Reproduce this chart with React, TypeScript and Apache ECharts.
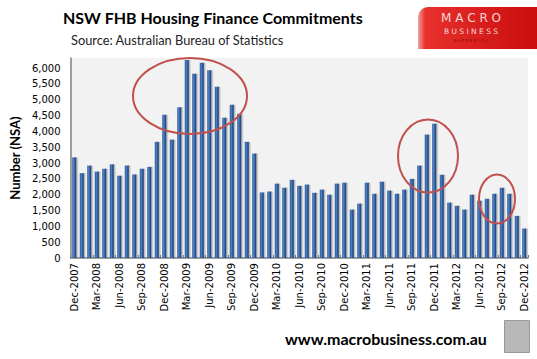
import React, { useEffect, useRef } from "react";
import * as echarts from "echarts";

const categories: string[] = [
  "Dec-2007", "Jan-2008", "Feb-2008", "Mar-2008", "Apr-2008", "May-2008", "Jun-2008", "Jul-2008", "Aug-2008", "Sep-2008", "Oct-2008", "Nov-2008",
  "Dec-2008", "Jan-2009", "Feb-2009", "Mar-2009", "Apr-2009", "May-2009", "Jun-2009", "Jul-2009", "Aug-2009", "Sep-2009", "Oct-2009", "Nov-2009",
  "Dec-2009", "Jan-2010", "Feb-2010", "Mar-2010", "Apr-2010", "May-2010", "Jun-2010", "Jul-2010", "Aug-2010", "Sep-2010", "Oct-2010", "Nov-2010",
  "Dec-2010", "Jan-2011", "Feb-2011", "Mar-2011", "Apr-2011", "May-2011", "Jun-2011", "Jul-2011", "Aug-2011", "Sep-2011", "Oct-2011", "Nov-2011",
  "Dec-2011", "Jan-2012", "Feb-2012", "Mar-2012", "Apr-2012", "May-2012", "Jun-2012", "Jul-2012", "Aug-2012", "Sep-2012", "Oct-2012", "Nov-2012",
  "Dec-2012",
];

const fhbCommitments: number[] = [
  3180, 2680, 2920, 2730, 2820, 2960, 2600, 2920, 2640, 2820, 2880, 3670,
  4530, 3740, 4760, 6260, 5820, 6170, 5930, 5410, 4430, 4840, 4560, 3670,
  3300, 2070, 2100, 2350, 2220, 2470, 2280, 2320, 2060, 2160, 2000, 2350,
  2380, 1530, 1720, 2380, 2030, 2410, 2130, 2030, 2160, 2500, 2920, 3900,
  4240, 2630, 1750, 1650, 1530, 2000, 1810, 1870, 2030, 2220, 2030, 1330,
  930,
];

const titleText = "NSW FHB Housing Finance Commitments";
const subtitleText = "Source: Australian Bureau of Statistics";
const yAxisName = "Number (NSA)";
const footerText = "www.macrobusiness.com.au";

export default function App() {
  const ref = useRef<HTMLDivElement>(null);

  useEffect(() => {
    if (!ref.current) return;
    const chart = echarts.init(ref.current, null, { renderer: "svg" });
    const ellipseStyle = { fill: "none", stroke: "#C0504D", lineWidth: 2 };
    chart.setOption({
      animation: false,
      backgroundColor: "#ffffff",
      grid: {
        left: 63,
        right: 9,
        top: 58,
        bottom: 101,
        show: true,
        backgroundColor: "#F2F2F2",
        borderWidth: 0,
      },
      xAxis: {
        type: "category",
        data: categories,
        boundaryGap: true,
        axisLine: { show: true, lineStyle: { color: "#808080", width: 1.5 } },
        axisTick: { show: true, interval: 2, inside: true, length: 3, lineStyle: { color: "#808080" } },
        axisLabel: {
          interval: 2,
          rotate: 90,
          margin: 5,
          fontFamily: "DejaVu Sans",
          fontSize: 10,
          color: "#000",
        },
      },
      yAxis: {
        type: "value",
        min: 0,
        max: 6320,
        interval: 500,
        name: yAxisName,
        nameLocation: "middle",
        nameGap: 46,
        nameTextStyle: { fontFamily: "Lato", fontWeight: "bold", fontSize: 13, color: "#000" },
        axisLine: { show: true, lineStyle: { color: "#808080", width: 1.5 } },
        axisTick: { show: false },
        splitLine: { show: false },
        axisLabel: {
          showMaxLabel: false,
          margin: 10,
          fontFamily: "DejaVu Sans",
          fontSize: 10,
          color: "#000",
          formatter: (v: number) => v.toLocaleString("en-US"),
        },
      },
      series: [
        {
          type: "bar",
          data: fhbCommitments,
          barWidth: 4,
          itemStyle: {
            color: new echarts.graphic.LinearGradient(0, 0, 1, 0, [
              { offset: 0, color: "#1F4F8F" },
              { offset: 0.35, color: "#5585C6" },
              { offset: 0.65, color: "#2D5EA2" },
              { offset: 1, color: "#183A6C" },
            ]),
            shadowColor: "rgba(0,0,0,0.25)",
            shadowBlur: 1,
            shadowOffsetX: 1.5,
            shadowOffsetY: 0,
          },
        },
      ],
      graphic: [
        {
          type: "text",
          left: 63,
          top: 9,
          style: { text: titleText, fontFamily: "Lato", fontWeight: "bold", fontSize: 16, fill: "#000" },
        },
        {
          type: "text",
          left: 71,
          top: 33,
          style: { text: subtitleText, fontFamily: "Lato", fontSize: 12.8, fill: "#222" },
        },
        {
          type: "group",
          left: 418,
          top: 7,
          children: [
            {
              type: "rect",
              shape: { x: 0, y: 0, width: 119, height: 42, r: [10, 0, 0, 0] },
              style: {
                fill: new echarts.graphic.LinearGradient(0, 0, 1, 0, [
                  { offset: 0, color: "#F2A0A0" },
                  { offset: 0.06, color: "#E8302C" },
                  { offset: 1, color: "#C80E0E" },
                ]),
              },
            },
            {
              type: "text",
              x: 53,
              y: 5,
              style: { text: "M A C R O", fontFamily: "DejaVu Sans", fontSize: 12, fill: "#F6D6D6", align: "center" },
            },
            {
              type: "text",
              x: 53,
              y: 20,
              style: { text: "B U S I N E S S", fontFamily: "DejaVu Sans", fontSize: 7.5, fill: "#F6D6D6", align: "center" },
            },
            {
              type: "text",
              x: 53,
              y: 31,
              style: { text: "S U P E R B L O G", fontFamily: "DejaVu Sans", fontSize: 4, fill: "#8A0A0A", align: "center" },
            },
          ],
        },
        { type: "ellipse", shape: { cx: 190, cy: 96, rx: 57, ry: 38 }, style: ellipseStyle, z: 100 },
        { type: "ellipse", shape: { cx: 428, cy: 156, rx: 30, ry: 36.5 }, style: ellipseStyle, z: 100 },
        { type: "ellipse", shape: { cx: 497, cy: 199, rx: 18, ry: 24.5 }, style: ellipseStyle, z: 100 },
        {
          type: "text",
          left: 285,
          top: 330,
          style: { text: footerText, fontFamily: "Lato", fontWeight: "bold", fontSize: 16, fill: "#000" },
        },
        {
          type: "rect",
          left: 504,
          top: 320,
          shape: { x: 0, y: 0, width: 25, height: 32 },
          style: { fill: "#B8B8B8", stroke: "#999", lineWidth: 1 },
        },
      ],
    });
    return () => chart.dispose();
  }, []);

  return (
    <div
      ref={ref}
      style={{ position: "fixed", left: 0, top: 0, width: 537, height: 359 }}
    />
  );
}
